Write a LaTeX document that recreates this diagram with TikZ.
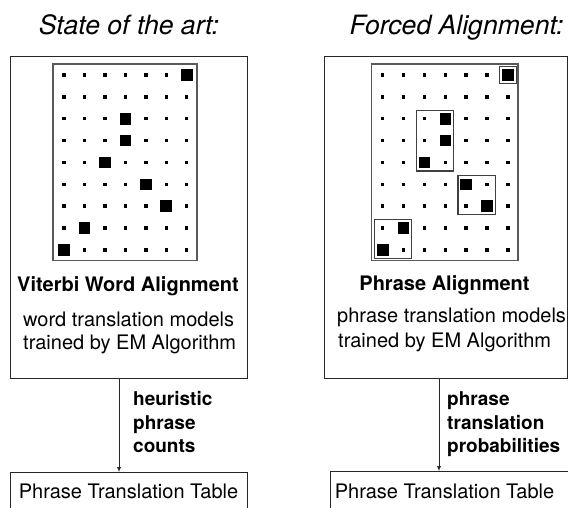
\documentclass[tikz,border=0pt]{standalone}
\usepackage{fontspec}
\setmainfont{TeX Gyre Heros}
\usetikzlibrary{arrows.meta}
\tikzset{
  panel/.style={draw=black!85, line width=1pt, inner sep=0pt},
  gridframe/.style={draw=black!65, line width=1.3pt},
  phrasebox/.style={draw=black!75, line width=1.2pt},
  title/.style={font=\fontsize{26.6}{30}\selectfont\itshape, inner sep=0pt, anchor=base},
  boldhead/.style={font=\fontsize{20}{24}\selectfont\bfseries, inner sep=0pt, anchor=base},
  plain/.style={font=\fontsize{20}{23}\selectfont, inner sep=0pt, anchor=base west, align=left},
  arrowlabel/.style={font=\fontsize{19}{23.4}\selectfont\bfseries, inner sep=0pt, anchor=base west, align=left},
  flow/.style={draw=black!85, line width=0.9pt, -{Latex[length=5pt,width=4pt]}}
}
\begin{document}
\begin{tikzpicture}[x=1pt,y=-1pt]
\useasboundingbox (0,0) rectangle (568,508);
\clip (0,0) rectangle (568,508);
% titles
\node[title] (t1) at (129,35) {State of the art:};
\node[title] (t2) at (456.5,35) {Forced Alignment:};
% outer panels
\node[panel, minimum width=237pt, minimum height=321.6pt] (lbox) at (128.5,217.5) {};
\node[panel, minimum width=243pt, minimum height=321.6pt] (rbox) at (445.5,217.5) {};
% bottom tables
\node[panel, minimum width=237pt, minimum height=60pt] (ltab) at (128.5,502.7) {};
\node[panel, minimum width=250pt, minimum height=60pt] (rtab) at (455,501.7) {};
\node[plain, anchor=base] (ltabtext) at (128.5,498.3) {Phrase Translation Table};
\node[plain, anchor=base] (rtabtext) at (444.5,498.3) {Phrase Translation Table};
% left grid
\draw[gridframe] (53,64) rectangle (197,260.7);
\foreach \c in {0,...,6}
  \foreach \r in {0,...,8}
    \fill ({64+\c*20.45-1.75},{75+\r*21.875-1.75}) rectangle ++(3.5,3.5);
\foreach \c/\r in {6/0,3/2,3/3,2/4,4/5,5/6,1/7,0/8}
  \fill ({64+\c*20.45-5.8},{75+\r*21.875-5.8}) rectangle ++(11.6,11.6);
% right grid
\draw[gridframe] (371.7,64) rectangle (518,260.7);
\foreach \c in {0,...,6}
  \foreach \r in {0,...,8}
    \fill ({382.7+\c*20.88-1.75},{75+\r*21.875-1.75}) rectangle ++(3.5,3.5);
\foreach \c/\r in {6/0,3/2,3/3,2/4,4/5,5/6,1/7,0/8}
  \fill ({382.7+\c*20.88-5.8},{75+\r*21.875-5.8}) rectangle ++(11.6,11.6);
% phrase boxes (c1/r1/c2/r2)
\foreach \ca/\ra/\cb/\rb in {6/0/6/0,2/2/3/4,4/5/5/6,0/7/1/8}
  \draw[phrasebox] ({382.7+\ca*20.88-8.3},{75+\ra*21.875-8.5}) rectangle ({382.7+\cb*20.88+8.3},{75+\rb*21.875+8.5});
% panel texts
\node[boldhead] (lhead) at (128,291) {Viterbi Word Alignment};
\node[plain] (ltx1) at (23,326) {word translation models};
\node[plain] (ltx2) at (23,349) {trained by EM Algorithm};
\node[boldhead] (rhead) at (444.5,290) {Phrase Alignment};
\node[plain] (rtx1) at (337,322) {phrase translation models};
\node[plain] (rtx2) at (338,347) {trained by EM Algorithm};
% arrows
\coordinate (la) at (119,0);
\coordinate (ra) at (439,0);
\draw[flow] (lbox.south -| la) -- (ltab.north -| la);
\draw[flow] (rbox.south -| ra) -- (rtab.north -| ra);
\node[arrowlabel] (llab) at (133,452.7) {heuristic\\phrase\\counts};
\node[arrowlabel] (rlab) at (447,452.7) {phrase\\translation\\probabilities};
\end{tikzpicture}
\end{document}
